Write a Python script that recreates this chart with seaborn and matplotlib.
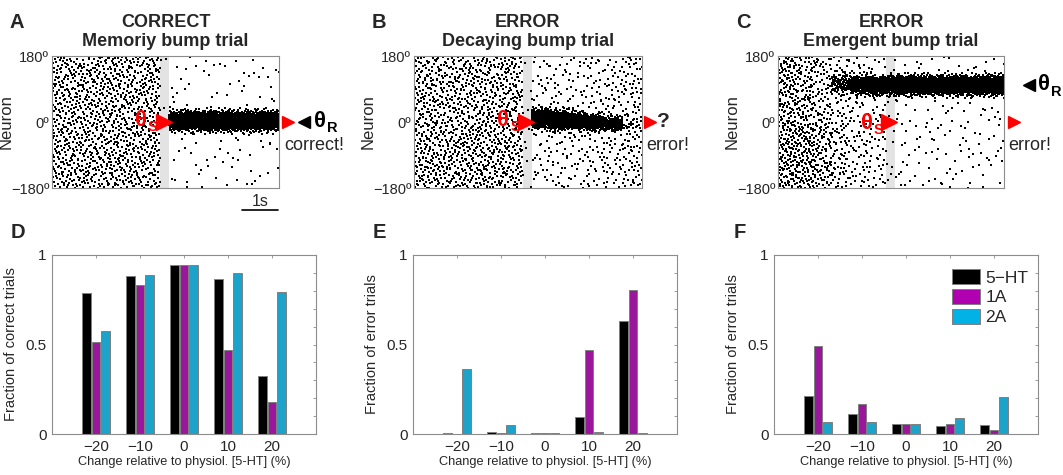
import statistics
import numpy as np
import pandas as pd
import seaborn as sns
import matplotlib.pyplot as plt
import matplotlib.patches as mpatches

# ---- raster data (dots per time bin) ----
time_edges = [0, 0.5, 1.0, 1.5, 2.0, 2.5, 3.0, 3.25, 3.75, 4.25, 4.75, 5.25, 5.75, 6.3]

a_bg_upper = [95, 90, 90, 95, 90, 95, 2, 9, 8, 9, 8, 9, 10]
a_bg_lower = [95, 95, 90, 95, 95, 90, 2, 9, 9, 8, 9, 8, 10]
a_bump_count = [0, 0, 0, 0, 0, 0, 0, 470, 460, 470, 460, 470, 520]
a_bump_center = [0, 0, 0, 0, 0, 0, 0, 3, 3, 3, 3, 3, 3]
a_bump_sd = [1, 1, 1, 1, 1, 1, 1, 12, 12, 12, 12, 12, 12]

b_bg_upper = [90, 85, 85, 90, 85, 90, 4, 26, 28, 30, 33, 40, 60]
b_bg_lower = [100, 95, 100, 105, 100, 95, 4, 28, 30, 31, 35, 44, 65]
b_bump_count = [0, 0, 0, 0, 0, 0, 0, 420, 380, 340, 300, 240, 15]
b_bump_center = [0, 0, 0, 0, 0, 0, 0, 10, 6, 3, -1, -5, -9]
b_bump_sd = [1, 1, 1, 1, 1, 1, 1, 12, 12, 11, 10, 8, 6]

c_bg_upper = [115, 95, 70, 50, 38, 30, 5, 12, 11, 12, 11, 11, 13]
c_bg_lower = [130, 130, 95, 65, 45, 38, 6, 14, 13, 13, 13, 12, 14]
c_bump_count = [0, 0, 0, 90, 250, 320, 160, 420, 440, 450, 450, 470, 540]
c_bump_center = [0, 0, 0, 105, 102, 100, 100, 100, 100, 100, 100, 100, 100]
c_bump_sd = [1, 1, 1, 15, 13, 12, 12, 12, 12, 12, 12, 12, 12]

# ---- bar data ----
changes = [-20, -10, 0, 10, 20]
change_labels = ["\u221220", "\u221210", "0", "10", "20"]
receptors = ["5\u2212HT", "1A", "2A"]

d_5ht = [0.79, 0.885, 0.945, 0.865, 0.325]
d_1a = [0.515, 0.83, 0.945, 0.47, 0.18]
d_2a = [0.575, 0.89, 0.945, 0.90, 0.795]

e_5ht = [0.006, 0.01, 0.007, 0.094, 0.63]
e_1a = [0.0, 0.007, 0.007, 0.472, 0.804]
e_2a = [0.363, 0.05, 0.007, 0.012, 0.007]

f_5ht = [0.211, 0.111, 0.056, 0.046, 0.05]
f_1a = [0.489, 0.17, 0.056, 0.057, 0.02]
f_2a = [0.067, 0.067, 0.056, 0.091, 0.207]

bar_colors = {"5\u2212HT": "#000000", "1A": "#B000B0", "2A": "#00B2E6"}

# dots are laid out with a Halton sequence over the whole panel and thinned
# to the per-bin counts above
inv_norm = statistics.NormalDist().inv_cdf
edges = np.array(time_edges)
widths = np.diff(edges)


def halton(idx, base):
    out = np.zeros(len(idx))
    f = 1.0
    i = idx.copy()
    while np.any(i > 0):
        f /= base
        out += f * (i % base)
        i //= base
    return out


def spikes(bg_upper, bg_lower, bump_count, bump_center, bump_sd, offset):
    # background, split in upper / lower half of the ring
    dens_up = np.array(bg_upper) / widths
    dens_lo = np.array(bg_lower) / widths
    peak = max(dens_up.max(), dens_lo.max())
    n = int(peak * edges[-1] * 2)
    k = np.arange(offset, offset + n)
    t = halton(k, 2) * edges[-1]
    y = halton(k, 3) * 360 - 180
    w = halton(k, 5)
    b = np.clip(np.searchsorted(edges, t, side="right") - 1, 0, len(widths) - 1)
    keep = w < np.where(y >= 0, dens_up[b], dens_lo[b]) / peak
    frames = [pd.DataFrame({"t": t[keep], "neuron": y[keep]})]

    # bump
    dens_b = np.array(bump_count) / widths
    n = int(dens_b.max() * edges[-1])
    k = np.arange(offset + 7919, offset + 7919 + n)
    t = halton(k, 2) * edges[-1]
    v = np.clip(halton(k, 3), 0.002, 0.998)
    w = halton(k, 7)
    b = np.clip(np.searchsorted(edges, t, side="right") - 1, 0, len(widths) - 1)
    keep = w < dens_b[b] / dens_b.max()
    y = np.array(bump_center)[b] + np.array(bump_sd)[b] * np.array([inv_norm(x) for x in v])
    frames.append(pd.DataFrame({"t": t[keep], "neuron": y[keep]}))
    return pd.concat(frames, ignore_index=True)


sns.set_theme(style="white")
plt.rcParams["font.family"] = ["Liberation Sans", "DejaVu Sans"]

fig = plt.figure(figsize=(10.63, 4.75), dpi=100)
W, H = 1063, 475


def axes_px(left, right, top, bottom):
    return fig.add_axes([left / W, 1 - bottom / H, (right - left) / W, (bottom - top) / H])


def theta(ax, x, y, sub, color, transform):
    ax.annotate("\u03b8", (x, y), xycoords=transform, fontsize=16, fontweight="bold",
                color=color, ha="left", va="center", annotation_clip=False, zorder=5)
    ax.annotate(sub, (x, y), xycoords=transform, xytext=(9.5, -5), textcoords="offset points",
                fontsize=10.5, fontweight="bold", color=color, ha="left", va="center",
                annotation_clip=False, zorder=5)


def style_box(ax):
    for s in ax.spines.values():
        s.set_visible(True)
        s.set_color("#8c8c8c")
        s.set_linewidth(0.8)


raster_specs = [
    ("A", (52, 279), "CORRECT\nMemoriy bump trial",
     spikes(a_bg_upper, a_bg_lower, a_bump_count, a_bump_center, a_bump_sd, 11)),
    ("B", (414, 642), "ERROR\nDecaying bump trial",
     spikes(b_bg_upper, b_bg_lower, b_bump_count, b_bump_center, b_bump_sd, 50011)),
    ("C", (778, 1004), "ERROR\nEmergent bump trial",
     spikes(c_bg_upper, c_bg_lower, c_bump_count, c_bump_center, c_bump_sd, 100011)),
]

raster_axes = []
for letter, (l, r), title, df in raster_specs:
    ax = axes_px(l, r, 56, 188)
    ax.axvspan(3.0, 3.25, color="#e3e3e3", lw=0, zorder=0)
    sns.scatterplot(data=df, x="t", y="neuron", ax=ax, color="black", s=0.8,
                    marker="s", linewidth=0, zorder=2)
    ax.set_xlim(0, 6.3)
    ax.set_ylim(-180, 180)
    ax.set_xticks([])
    ax.set_yticks([-180, 0, 180])
    ax.set_yticklabels(["\u2212180\u00ba", "0\u00ba", "180\u00ba"], fontsize=10.5)
    ax.tick_params(axis="y", length=0, pad=2)
    ax.set_xlabel("")
    ax.set_ylabel("Neuron", fontsize=12, labelpad=-2)
    ax.set_title(title, fontsize=13, fontweight="bold", pad=7, linespacing=1.15)
    style_box(ax)
    fig.text((l - 35) / W, 1 - 22 / H, letter, fontsize=14.5, fontweight="bold",
             ha="center", va="center")
    # stimulus cue
    ax.plot([3.1], [0], marker=">", ms=12, color="red", lw=0, clip_on=False, zorder=4)
    theta(ax, 2.3, 4 if letter != "C" else -3, "S", "red", "data")
    raster_axes.append(ax)

axA, axB, axC = raster_axes
tr = lambda ax: ax.get_yaxis_transform()

# right-hand side markers
axA.plot([1.04], [0], marker=">", ms=9, color="red", transform=tr(axA), clip_on=False)
axA.plot([1.11], [0], marker="<", ms=8.5, color="black", transform=tr(axA), clip_on=False)
theta(axA, 1.155, 2, "R", "black", tr(axA))
axA.text(1.022, -63, "correct!", transform=tr(axA), fontsize=13, va="center", ha="left")

axB.plot([1.035], [0], marker=">", ms=9, color="red", transform=tr(axB), clip_on=False)
axB.text(1.065, 2, "?", transform=tr(axB), fontsize=15, fontweight="bold", va="center", ha="left")
axB.text(1.02, -63, "error!", transform=tr(axB), fontsize=13, va="center", ha="left")

axC.plot([1.045], [0], marker=">", ms=9, color="red", transform=tr(axC), clip_on=False)
axC.plot([1.11], [100], marker="<", ms=8.5, color="black", transform=tr(axC), clip_on=False)
theta(axC, 1.15, 102, "R", "black", tr(axC))
axC.text(1.02, -63, "error!", transform=tr(axC), fontsize=13, va="center", ha="left")

# scale bar
axA.plot([5.28, 6.28], [-241, -241], color="black", lw=1.2, clip_on=False)
axA.text(5.78, -238, "1s", fontsize=11.5, ha="center", va="bottom")

# ---- bar charts ----
bar_specs = [
    ("D", (52, 316), "Fraction of correct trials", [d_5ht, d_1a, d_2a]),
    ("E", (413, 677), "Fraction of error trials", [e_5ht, e_1a, e_2a]),
    ("F", (774, 1038), "Fraction of error trials", [f_5ht, f_1a, f_2a]),
]

for letter, (l, r), ylabel, series in bar_specs:
    ax = axes_px(l, r, 255, 434)
    df = pd.DataFrame({
        "change": changes * 3,
        "receptor": [rec for rec in receptors for _ in changes],
        "value": series[0] + series[1] + series[2],
    })
    sns.barplot(data=df, x="change", y="value", hue="receptor", order=changes,
                hue_order=receptors, palette=bar_colors, width=0.65, gap=0.14,
                edgecolor="#7f7f7f", linewidth=0.7, legend=False, ax=ax)
    ax.set_xlim(-1, 5)
    ax.set_ylim(0, 1)
    ax.set_xticks(range(5))
    ax.set_xticklabels(change_labels, fontsize=11)
    ax.set_yticks(np.round(np.arange(0, 1.01, 0.1), 1))
    ax.set_yticklabels(["0", "", "", "", "", "0.5", "", "", "", "", "1"], fontsize=11)
    ax.tick_params(direction="in", length=2.5, width=0.6, color="#8c8c8c",
                   top=True, right=True, bottom=False, left=False, pad=4)
    ax.set_xlabel("Change relative to physiol. [5-HT] (%)", fontsize=9.2, labelpad=2)
    ax.set_ylabel(ylabel, fontsize=10.5, labelpad=5)
    style_box(ax)
    fig.text((l - 34) / W, 1 - 233 / H, letter, fontsize=14.5, fontweight="bold",
             ha="center", va="center")
    if letter == "F":
        handles = [mpatches.Patch(facecolor=bar_colors[k], edgecolor="#7f7f7f",
                                  linewidth=0.7, label=k) for k in receptors]
        ax.legend(handles=handles, loc="upper right", bbox_to_anchor=(0.99, 0.96),
                  frameon=False, fontsize=12.5, handlelength=1.65, handleheight=0.95,
                  handletextpad=0.3, labelspacing=0.2, borderaxespad=0)

fig.savefig("out.png", dpi=100)
